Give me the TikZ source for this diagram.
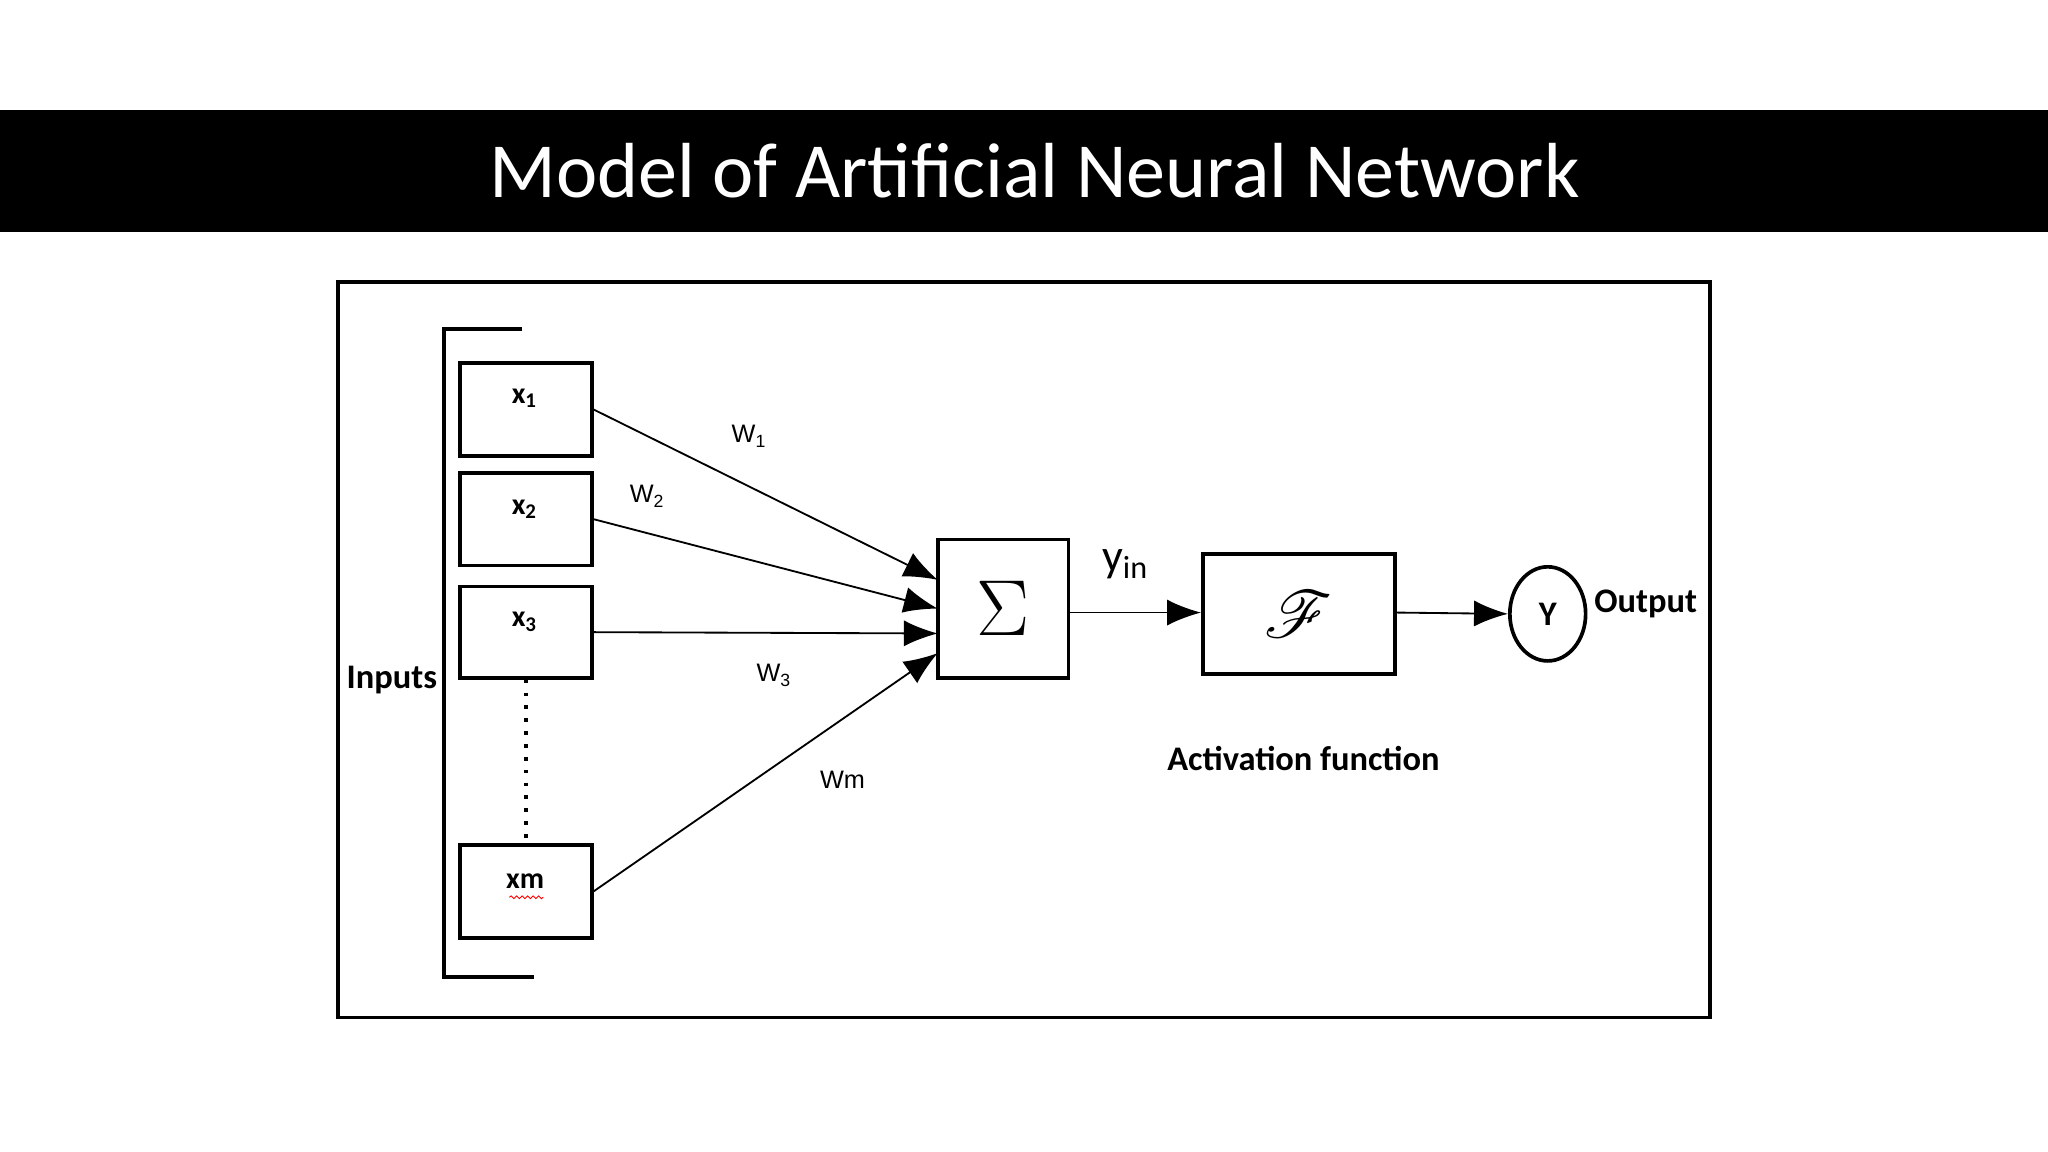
\documentclass[tikz,border=0pt]{standalone}
\usepackage{fontspec}
\usepackage{mathrsfs}
\setmainfont{Carlito}
\newfontfamily\argsans{Liberation Sans}
\usetikzlibrary{arrows.meta,shapes.geometric,decorations.pathmorphing}
\begin{document}
\begin{tikzpicture}[x=0.01cm,y=-0.01cm,
  inbox/.style={draw,thick,minimum width=1.01cm,minimum height=0.71cm,inner sep=0pt},
  conn/.style={-{Latex[length=2.6mm,width=2mm]},thin},
  wlab/.style={font=\argsans\fontsize{5.5}{6}\selectfont},
  blab/.style={font=\bfseries\fontsize{7.5}{9}\selectfont},
  xlab/.style={font=\bfseries\fontsize{6.5}{7}\selectfont}]
\useasboundingbox (0,0) rectangle (1568,882);
% title bar
\fill[black] (0,84) rectangle (1568,178);
\node[text=white,font=\fontsize{17}{20}\selectfont] (title) at (792,131) {Model of Artificial Neural Network};
% frame
\draw[thick] (259,216) rectangle (1309,779);
% input bracket
\draw[thick] (400,252) -- (340,252) -- (340,748) -- (409,748);
\node[blab] (inputs) at (300,521) {Inputs};
% inputs
\node[inbox] (x1) at (402.5,313.5) {};
\node[inbox] (x2) at (402.5,397.5) {};
\node[inbox,minimum height=0.70cm] (x3) at (402.5,484) {};
\node[inbox] (xm) at (402.5,682.5) {};
\node[xlab] (l1) at (402,305) {x\textsubscript{1}};
\node[xlab] (l2) at (402,390) {x\textsubscript{2}};
\node[xlab] (l3) at (402,476) {x\textsubscript{3}};
\node[xlab] (lm) at (402,675) {xm};
\draw[red,very thin,decorate,decoration={snake,amplitude=0.3pt,segment length=1.2pt}] (390,687) -- (416,687);
\draw[thick,dotted] (x3.south) -- (xm.north);
% summation
\node[inbox,minimum width=1.00cm,minimum height=1.06cm,font=\fontsize{17}{18}\selectfont] (sum) at (768,466) {$\Sigma$};
\coordinate (s1) at (718,444);
\coordinate (s2) at (718,466);
\coordinate (s3) at (718,485);
\coordinate (s4) at (718,500);
\draw[conn] (x1.east) -- (s1);
\draw[conn] (x2.east) -- (s2);
\draw[conn] (x3.east) -- (s3);
\draw[conn] (xm.east) -- (s4);
\node[wlab] at (574,334) {W\textsubscript{1}};
\node[wlab] at (496,380) {W\textsubscript{2}};
\node[wlab] at (593,517) {W\textsubscript{3}};
\node[wlab] at (645,597) {Wm};
% activation
\node[inbox,minimum width=1.47cm,minimum height=0.92cm,font=\fontsize{15}{16}\selectfont] (act) at (994.5,470) {$\mathscr{F}$};
\draw[conn] (sum.east |- 0,469) -- (act.west |- 0,469);
\node[font=\fontsize{10}{11}\selectfont] at (862,432) {\textrm{y\textsubscript{in}}};
\node[blab] at (998,581) {Activation function};
% output
\node[draw,thick,ellipse,minimum width=0.58cm,minimum height=0.72cm,inner sep=0pt,blab] (y) at (1185,470) {Y};
\draw[conn] (act.east |- 0,469) -- (y.west);
\node[blab] at (1260,462) {Output};
\end{tikzpicture}
\end{document}
